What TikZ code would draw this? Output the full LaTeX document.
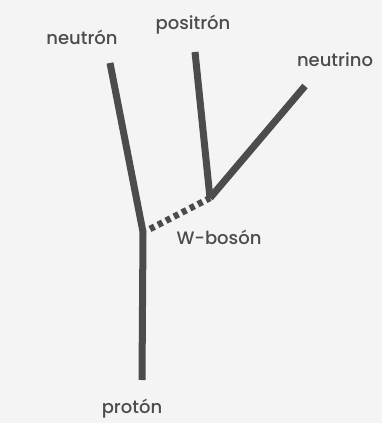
\documentclass[tikz,border=0pt]{standalone}
\usepackage{fontspec}
\setsansfont{Poppins}[UprightFont=* Medium]
\usepackage{xcolor}
\usetikzlibrary{positioning}
\definecolor{ink}{HTML}{4C4C4C}
\definecolor{paper}{HTML}{F4F4F4}

\begin{document}
\begin{tikzpicture}[x=1pt,y=-1pt,
 prt/.style={draw=ink,line width=7pt},
 bos/.style={draw=ink,line width=6.5pt,dash pattern=on 5pt off 4pt},
 lbl/.style={text=ink,font=\sffamily\fontsize{18}{21}\selectfont,inner sep=1pt}]
\fill[paper] (0,0) rectangle (382,423);
\useasboundingbox (0,0) rectangle (382,423);
% vertices
\coordinate (v1) at (143,232);
\coordinate (v2) at (210,198);
% free ends
\coordinate (en) at (110,63);
\coordinate (ep) at (195,52);
\coordinate (ev) at (305,86);
\coordinate (eb) at (142,380);
\coordinate (ew) at (150,229);
\draw[prt] (en) -- (v1) -- (eb);
\draw[prt] (ep) -- (v2);
\draw[prt] (ev) -- (v2);
\draw[bos] (ew) -- (v2);
\node[lbl] (neu) at (82,37) {neutrón};
\node[lbl] (pos) at (193,25) {positrón};
\node[lbl] (nuo) at (335,60) {neutrino};
\node[lbl] (wb) at (219,237) {W-bosón};
\node[lbl] (pro) at (132,409) {protón};
\end{tikzpicture}
\end{document}
